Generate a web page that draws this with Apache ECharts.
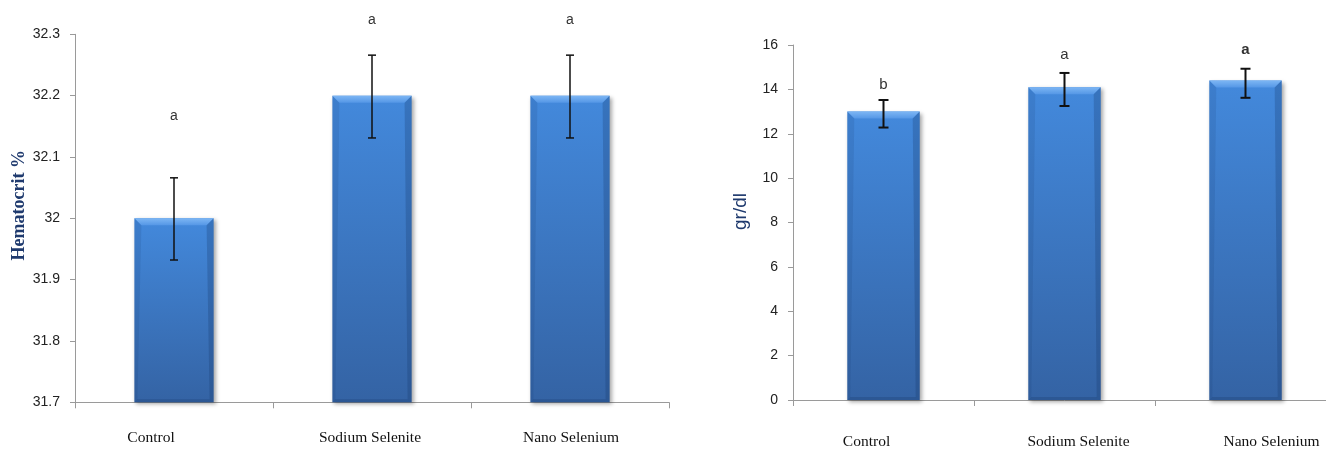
<!DOCTYPE html>
<html>
<head>
<meta charset="utf-8">
<script src="https://cdn.jsdelivr.net/npm/echarts@6/dist/echarts.min.js"></script>
<style>html,body{margin:0;padding:0;background:#fff;overflow:hidden}#c{width:1345px;height:450px}</style>
</head>
<body>
<div id="c"></div>
<script>
// ---- data ----
const categories = ['Control', 'Sodium Selenite', 'Nano Selenium'];

const hctValues   = [32.0, 32.2, 32.2];
const hctErrLow   = [31.932, 32.131, 32.131];
const hctErrHigh  = [32.066, 32.266, 32.266];
const hctLetters  = ['a', 'a', 'a'];
const hctLetterAt = [32.166, 32.323, 32.323];
const hctAxis     = {min: 31.7, max: 32.3, interval: 0.1};

const hbValues    = [13.0, 14.1, 14.4];
const hbErrLow    = [12.28, 13.25, 13.62];
const hbErrHigh   = [13.52, 14.74, 14.93];
const hbLetters   = ['b', 'a', 'a'];
const hbLetterAt  = [14.2, 15.55, 15.78];
const hbLetterBold = [false, false, true];
const hbAxis      = {min: 0, max: 16, interval: 2};

// label horizontal nudges (layout only, px)
const leftLabelShift  = [-23, -2, 1];
const rightLabelShift = [-17, 14, 26];

// ---- chart ----
const chart = echarts.init(document.getElementById('c'), null, {renderer: 'canvas'});

const barColor = new echarts.graphic.LinearGradient(0, 0, 0, 1, [
  {offset: 0, color: '#4389dc'},
  {offset: 1, color: '#3463a4'}
]);

function bevelRender(axisMin) {
  return function (params, api) {
    const i = api.value(0);
    const band = api.size([1, 0])[0];
    const w = band * 0.4;
    const top = api.coord([i, api.value(1)]);
    const bot = api.coord([i, axisMin]);
    const x0 = top[0] - w / 2, x1 = top[0] + w / 2, y0 = top[1], yb = bot[1];
    const d = 7;
    return {
      type: 'group',
      children: [
        {type: 'polygon', shape: {points: [[x0, y0], [x1, y0], [x1 - d, y0 + d], [x0 + d, y0 + d]]},
          style: {fill: new echarts.graphic.LinearGradient(0, 0, 0, 1, [
            {offset: 0, color: '#7db6f4'}, {offset: 1, color: '#5597e6'}])}},
        {type: 'polygon', shape: {points: [[x0, y0], [x0 + d, y0 + d], [x0 + 3, yb - 3], [x0, yb]]},
          style: {fill: 'rgba(20,50,100,0.12)'}},
        {type: 'polygon', shape: {points: [[x1, y0], [x1 - d, y0 + d], [x1 - 4, yb - 3], [x1, yb]]},
          style: {fill: 'rgba(20,50,100,0.25)'}},
        {type: 'polygon', shape: {points: [[x0, yb], [x1, yb], [x1 - 4, yb - 3], [x0 + 3, yb - 3]]},
          style: {fill: 'rgba(20,50,100,0.25)'}}
      ]
    };
  };
}

function errRender(capW, lw) {
  return function (params, api) {
    const i = api.value(0);
    const lo = api.coord([i, api.value(1)]);
    const hi = api.coord([i, api.value(2)]);
    const st = {stroke: '#111', lineWidth: lw};
    return {
      type: 'group',
      children: [
        {type: 'line', shape: {x1: hi[0], y1: hi[1], x2: lo[0], y2: lo[1]}, style: st},
        {type: 'line', shape: {x1: hi[0] - capW / 2, y1: hi[1], x2: hi[0] + capW / 2, y2: hi[1]}, style: st},
        {type: 'line', shape: {x1: lo[0] - capW / 2, y1: lo[1], x2: lo[0] + capW / 2, y2: lo[1]}, style: st}
      ]
    };
  };
}

function letterRender(letters, bold, size) {
  return function (params, api) {
    const i = api.value(0);
    const p = api.coord([i, api.value(1)]);
    return {
      type: 'text',
      x: p[0], y: p[1],
      style: {
        text: letters[params.dataIndex],
        fill: '#333',
        font: (bold && bold[params.dataIndex] ? 'bold ' : '') + size + 'px "Liberation Sans", Arial, sans-serif',
        align: 'center', verticalAlign: 'middle'
      }
    };
  };
}

const tickFont = {color: '#222', fontSize: 14, fontFamily: '"Liberation Sans", Arial, sans-serif'};
const catFont = {color: '#111', fontSize: 15.5, fontFamily: '"Liberation Serif", "Times New Roman", serif'};
const axisLineStyle = {lineStyle: {color: '#9a9a9a', width: 1}};

function xAx(gridIndex, margin, shifts) {
  const rich = {};
  shifts.forEach((s, i) => {
    rich['c' + i] = {...catFont, padding: s < 0 ? [0, -2 * s, 0, 0] : [0, 0, 0, 2 * s]};
  });
  return {
    type: 'category', gridIndex, data: categories,
    axisLine: {show: true, ...axisLineStyle},
    axisTick: {show: true, length: 6, lineStyle: {color: '#9a9a9a'}},
    axisLabel: {...catFont, margin, formatter: (v, i) => '{c' + i + '|' + v + '}', rich},
    splitLine: {show: false}
  };
}

function yAx(gridIndex, ax, name, nameStyle, nameGap) {
  return {
    type: 'value', gridIndex, min: ax.min, max: ax.max, interval: ax.interval,
    name, nameLocation: 'middle', nameGap, nameTextStyle: nameStyle,
    axisLine: {show: true, ...axisLineStyle},
    axisTick: {show: true, length: 5, lineStyle: {color: '#9a9a9a'}},
    axisLabel: {...tickFont, margin: 15, formatter: v => String(+v.toFixed(1))},
    splitLine: {show: false}
  };
}

const barStyle = {
  color: barColor,
  shadowColor: 'rgba(0,0,0,0.35)', shadowBlur: 4, shadowOffsetX: 2, shadowOffsetY: 2
};

chart.setOption({
  animation: false,
  backgroundColor: '#fff',
  grid: [
    {left: 75, top: 34.3, width: 594, bottom: 47.7},
    {left: 793, top: 45, width: 543, bottom: 49}
  ],
  xAxis: [xAx(0, 28, leftLabelShift), xAx(1, 34, rightLabelShift)],
  yAxis: [
    yAx(0, hctAxis, 'Hematocrit %',
      {color: '#1f3a6e', fontSize: 18, fontWeight: 'bold', fontFamily: '"Liberation Serif", "Times New Roman", serif', padding: [0, 0, 0, 26]}, 47),
    yAx(1, hbAxis, 'gr/dl',
      {color: '#1f3a6e', fontSize: 19, fontFamily: '"Liberation Sans", Arial, sans-serif', padding: [0, 0, 0, 22]}, 43)
  ],
  series: [
    {type: 'bar', xAxisIndex: 0, yAxisIndex: 0, data: hctValues, barWidth: '40%', itemStyle: barStyle},
    {type: 'custom', xAxisIndex: 0, yAxisIndex: 0, clip: false, z: 3,
      renderItem: bevelRender(hctAxis.min), data: hctValues.map((v, i) => [i, v])},
    {type: 'custom', xAxisIndex: 0, yAxisIndex: 0, clip: false, z: 5,
      renderItem: errRender(8, 1.5), data: hctValues.map((v, i) => [i, hctErrLow[i], hctErrHigh[i]])},
    {type: 'custom', xAxisIndex: 0, yAxisIndex: 0, clip: false, z: 5,
      renderItem: letterRender(hctLetters, null, 14), data: hctLetterAt.map((v, i) => [i, v])},

    {type: 'bar', xAxisIndex: 1, yAxisIndex: 1, data: hbValues, barWidth: '40%', itemStyle: barStyle},
    {type: 'custom', xAxisIndex: 1, yAxisIndex: 1, clip: false, z: 3,
      renderItem: bevelRender(hbAxis.min), data: hbValues.map((v, i) => [i, v])},
    {type: 'custom', xAxisIndex: 1, yAxisIndex: 1, clip: false, z: 5,
      renderItem: errRender(10, 2), data: hbValues.map((v, i) => [i, hbErrLow[i], hbErrHigh[i]])},
    {type: 'custom', xAxisIndex: 1, yAxisIndex: 1, clip: false, z: 5,
      renderItem: letterRender(hbLetters, hbLetterBold, 15), data: hbLetterAt.map((v, i) => [i, v])}
  ]
});
</script>
</body>
</html>
